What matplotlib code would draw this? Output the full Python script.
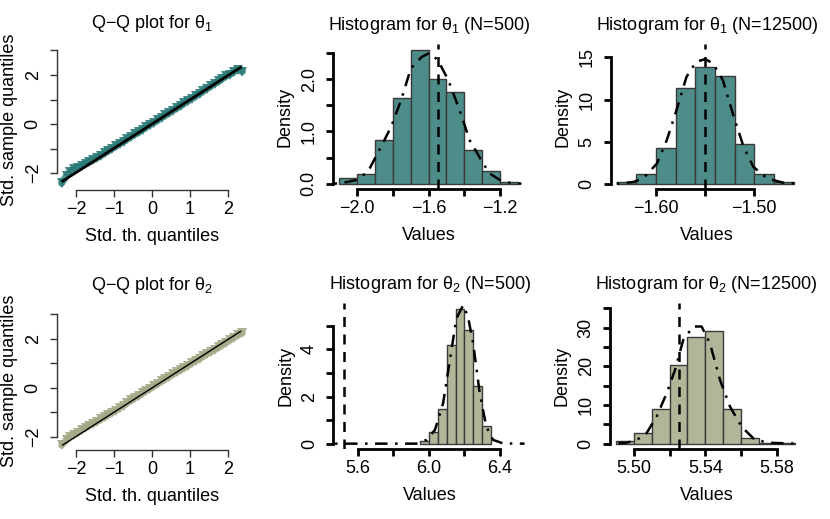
import matplotlib
matplotlib.use("Agg")
import matplotlib.pyplot as plt
import numpy as np

plt.rcParams['font.family'] = ['Liberation Sans', 'DejaVu Sans']
plt.rcParams['mathtext.fontset'] = 'custom'
plt.rcParams['mathtext.rm'] = 'Liberation Sans'
plt.rcParams['mathtext.default'] = 'regular'
FS = 13

teal = '#4d8c89'
teal_pt = '#2b7b78'
olive = '#b1b698'
olive_pt = '#a3aa87'

# Q-Q plot values
qq1_theo = [-2.38, -2.25, -2.15, -2.05, -1.95, -1.85, -1.75, -1.65, -1.55, -1.45,
            -1.35, -1.25, -1.15, -1.05, -0.95, -0.85, -0.75, -0.65, -0.55, -0.45,
            -0.35, -0.25, -0.15, -0.05, 0.05, 0.15, 0.25, 0.35, 0.45, 0.55, 0.65,
            0.75, 0.85, 0.95, 1.05, 1.15, 1.25, 1.35, 1.45, 1.55, 1.65, 1.75, 1.85,
            1.95, 2.05, 2.15, 2.25, 2.38]
qq1_samp = [-2.42, -2.10, -1.95, -1.85, -1.78, -1.70, -1.62, -1.55, -1.47, -1.38,
            -1.29, -1.19, -1.10, -1.00, -0.91, -0.81, -0.72, -0.62, -0.52, -0.42,
            -0.33, -0.23, -0.13, -0.04, 0.06, 0.16, 0.26, 0.35, 0.45, 0.55, 0.65,
            0.74, 0.84, 0.94, 1.04, 1.14, 1.24, 1.34, 1.44, 1.55, 1.64, 1.74, 1.85,
            1.95, 2.02, 2.12, 2.22, 2.14]
qq1_line = [-2.35, 2.33]

qq2_theo = qq1_theo
qq2_samp = [-2.34, -2.12, -1.98, -1.90, -1.82, -1.72, -1.63, -1.54, -1.46, -1.37,
            -1.28, -1.19, -1.10, -1.01, -0.92, -0.82, -0.72, -0.61, -0.51, -0.41,
            -0.32, -0.22, -0.12, -0.03, 0.07, 0.17, 0.27, 0.36, 0.46, 0.55, 0.64,
            0.73, 0.82, 0.91, 1.01, 1.10, 1.19, 1.29, 1.38, 1.47, 1.56, 1.66, 1.75,
            1.85, 1.95, 2.05, 2.15, 2.24]
qq2_line = [-2.35, 2.33]

# histograms: bin edges, densities, kernel density curve, true value
h1a_edges = [-2.1, -2.0, -1.9, -1.8, -1.7, -1.6, -1.5, -1.4, -1.3, -1.2, -1.1]
h1a_dens = [0.10, 0.18, 0.84, 1.64, 2.56, 2.00, 1.76, 0.64, 0.24, 0.04]
h1a_kx = [-2.127, -2.06, -2.006, -1.94, -1.866, -1.81, -1.754, -1.70, -1.64,
          -1.595, -1.548, -1.49, -1.427, -1.37, -1.305, -1.26, -1.20, -1.147, -1.08]
h1a_ky = [0.0, 0.03, 0.07, 0.23, 0.71, 1.09, 1.60, 2.20, 2.42, 2.50, 2.36, 1.98,
          1.41, 0.83, 0.45, 0.20, 0.07, 0.02, 0.0]
h1a_true = -1.55

h1b_edges = [-1.64, -1.62, -1.60, -1.58, -1.56, -1.54, -1.52, -1.50, -1.48, -1.46]
h1b_dens = [0.2, 1.2, 4.2, 11.4, 13.85, 12.78, 4.76, 1.19, 0.24]
h1b_kx = [-1.64, -1.623, -1.613, -1.599, -1.589, -1.579, -1.569, -1.559, -1.550,
          -1.542, -1.532, -1.521, -1.511, -1.501, -1.487, -1.471, -1.454]
h1b_ky = [0.0, 0.2, 0.63, 2.4, 5.2, 8.8, 12.7, 14.5, 14.8, 14.3, 12.3, 8.0, 4.4,
          2.0, 0.63, 0.12, 0.0]
h1b_true = -1.55

h2a_edges = [5.95, 6.00, 6.05, 6.10, 6.15, 6.20, 6.25, 6.30, 6.35]
h2a_dens = [0.12, 0.48, 1.48, 4.20, 5.72, 4.84, 2.44, 0.76]
h2a_kx = [5.473, 5.93, 5.987, 6.034, 6.08, 6.118, 6.155, 6.193, 6.22, 6.249,
          6.286, 6.323, 6.361, 6.417, 6.538]
h2a_ky = [0.0, 0.0, 0.16, 0.58, 1.71, 3.55, 5.32, 5.88, 5.39, 4.26, 2.14, 0.72,
          0.16, 0.01, 0.0]
h2a_true = 5.523

h2b_edges = [5.49, 5.50, 5.51, 5.52, 5.53, 5.54, 5.55, 5.56, 5.57, 5.58, 5.59]
h2b_dens = [0.6, 2.67, 9.0, 20.4, 27.5, 29.1, 9.05, 1.4, 0.2, 0.1]
h2b_kx = [5.4856, 5.4959, 5.5015, 5.507, 5.5127, 5.5183, 5.523, 5.5276, 5.5332,
          5.5379, 5.5426, 5.5482, 5.5538, 5.5603, 5.5669, 5.5743, 5.592]
h2b_ky = [0.0, 0.26, 0.95, 2.67, 7.0, 13.0, 19.05, 26.8, 30.3, 30.3, 25.9, 16.5,
          9.6, 4.4, 1.38, 0.26, 0.0]
h2b_true = 5.525

W, H = 830, 519
fig = plt.figure(figsize=(W / 100, H / 100), dpi=100)


def make_ax(l, r, t, b):
    return fig.add_axes([l / W, 1 - b / H, (r - l) / W, (b - t) / H])


def r_style(ax, xt, xl, yt, yl, lw, col):
    for s in ['top', 'right']:
        ax.spines[s].set_visible(False)
    for s in ['left', 'bottom']:
        ax.spines[s].set_linewidth(lw)
        ax.spines[s].set_color(col)
    ax.spines['bottom'].set_bounds(xt[0], xt[-1])
    ax.spines['left'].set_bounds(yt[0], yt[-1])
    ax.set_xticks(xt)
    ax.set_xticklabels([l if l is not None else '' for l in xl])
    ax.set_yticks(yt)
    ax.set_yticklabels([l if l is not None else '' for l in yl],
                       rotation=90, va='center')
    ax.tick_params(axis='x', length=5, width=lw, color=col, labelsize=FS, pad=3)
    ax.tick_params(axis='y', length=5, width=lw, color=col, labelsize=FS, pad=6)
    ax.patch.set_alpha(0)


def qq_panel(ax, theo, samp, line, pcol, llw, title):
    # dense band of overlapping points
    ax.plot(theo, samp, color=pcol, lw=5, alpha=0.8, solid_capstyle='round')
    ax.plot(theo, samp, linestyle='none', marker='v', ms=7, color=pcol,
            alpha=0.9, mew=0)
    ax.plot(line, [v * 0.99 for v in line], color='black', lw=llw)
    ax.set_xlim(-2.5, 2.5)
    r_style(ax, [-2, -1, 0, 1, 2], ['−2', '−1', '0', '1', '2'],
            [-2, -1, 0, 1, 2, 3], ['−2', None, '0', None, '2', None], 1.0, '#333333')
    ax.set_title(title, fontsize=FS, pad=15)
    ax.set_xlabel('Std. th. quantiles', fontsize=FS, labelpad=7)
    ax.set_ylabel('Std. sample quantiles', fontsize=FS, labelpad=5)


def hist_panel(ax, edges, dens, kx, ky, true, col, xlim, ylim, xt, xl, yt, yl, title):
    ax.bar(edges[:-1], dens, width=np.diff(edges), align='edge', color=col,
           edgecolor='#3a3a3a', lw=1.0)
    ax.plot(kx, ky, color='black', lw=1.8, dashes=(1, 3, 5, 3))
    ax.axvline(true, color='black', lw=1.8, dashes=(4, 3))
    ax.set_xlim(*xlim)
    ax.set_ylim(*ylim)
    r_style(ax, xt, xl, yt, yl, 2.0, 'black')
    ax.set_title(title, fontsize=FS, pad=10)
    ax.set_xlabel('Values', fontsize=FS, labelpad=7)
    ax.set_ylabel('Density', fontsize=FS, labelpad=5)


ax1 = make_ax(57, 247, 49, 190)
ax1.set_ylim(-2.69, 3.06)
qq_panel(ax1, qq1_theo, qq1_samp, qq1_line, teal_pt, 2.0, 'Q−Q plot for θ$_1$')

ax4 = make_ax(57, 247, 311, 450)
ax4.set_ylim(-2.53, 3.14)
qq_panel(ax4, qq2_theo, qq2_samp, qq2_line, olive_pt, 1.0, 'Q−Q plot for θ$_2$')

ax2 = make_ax(333, 525, 44, 189.3)
hist_panel(ax2, h1a_edges, h1a_dens, h1a_kx, h1a_ky, h1a_true, teal,
           (-2.136, -1.060), (-0.107, 2.67),
           [-2.0, -1.8, -1.6, -1.4, -1.2], ['−2.0', None, '−1.6', None, '−1.2'],
           [0, 0.5, 1.0, 1.5, 2.0, 2.5], ['0.0', None, '1.0', None, '2.0', None],
           'Histogram for θ$_1$ (N=500)')

ax3 = make_ax(611, 803, 44, 189.3)
hist_panel(ax3, h1b_edges, h1b_dens, h1b_kx, h1b_ky, h1b_true, teal,
           (-1.6458, -1.4505), (-0.67, 16.6),
           [-1.60, -1.55, -1.50], ['−1.60', None, '−1.50'],
           [0, 5, 10, 15], ['0', '5', '10', '15'],
           'Histogram for θ$_1$ (N=12500)')

ax5 = make_ax(333.3, 526, 303.3, 449.3)
hist_panel(ax5, h2a_edges, h2a_dens, h2a_kx, h2a_ky, h2a_true, olive,
           (5.463, 6.546), (-0.24, 5.96),
           [5.6, 5.8, 6.0, 6.2, 6.4], ['5.6', None, '6.0', None, '6.4'],
           [0, 1, 2, 3, 4, 5], ['0', None, '2', None, '4', None],
           'Histogram for θ$_2$ (N=500)')

ax6 = make_ax(610, 803, 303.3, 449.3)
hist_panel(ax6, h2b_edges, h2b_dens, h2b_kx, h2b_ky, h2b_true, olive,
           (5.4866, 5.5947), (-1.45, 36.3),
           [5.50, 5.52, 5.54, 5.56, 5.58], ['5.50', None, '5.54', None, '5.58'],
           [0, 5, 10, 15, 20, 25, 30, 35], ['0', None, '10', None, '20', None, '30', None],
           'Histogram for θ$_2$ (N=12500)')

fig.savefig('out.png', dpi=100, facecolor='white')
